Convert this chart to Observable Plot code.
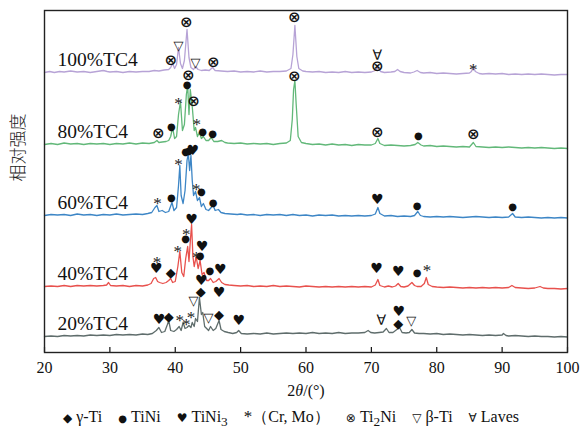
<!DOCTYPE html>
<html><head><meta charset="utf-8">
<script src="https://cdn.jsdelivr.net/npm/d3@7"></script>
<script src="https://cdn.jsdelivr.net/npm/@observablehq/plot@0.6"></script>
<style>
body{margin:0;background:#fff;}
#chart svg{display:block;}
#legend{width:582px;height:32px;padding-top:4px;box-sizing:border-box;font-family:"Liberation Serif","Times New Roman",serif;font-size:16px;color:#111;text-align:center;line-height:26px;white-space:nowrap;}
#legend .s{font-family:"DejaVu Sans",sans-serif;font-size:12px;margin-right:4px;}
#legend .s.dot{font-size:10px;}
#legend .s.ast{font-family:"Liberation Serif",serif;font-size:17px;margin-right:0;}
#legend .it{margin-right:16px;}
#legend .it:last-child{margin-right:0;}
</style></head><body>
<div id="chart"></div>
<div id="legend"></div>
<script>
// 2θ ticks
const xTicks = [20, 30, 40, 50, 60, 70, 80, 90, 100];
const seriesNames = ["20%TC4", "40%TC4", "60%TC4", "80%TC4", "100%TC4"];
const offsets = [16, 66, 137, 208, 280];
const colors = ["#5f6d6c", "#e8514d", "#3d86c6", "#62b879", "#b7a3d6"];

const tc20 = [[20,0],[21,0.5],[22,0],[23,1],[24,0.5],[25,1],[26,0.5],[27,1.5],[28,1],[29,1.5],[30,1],[31,2],[32,1.5],[33,2],[34,1.5],[35,2.5],[35.8,2],[36.5,3],[37.1,6],[37.5,9],[37.9,4],[38.4,5],[38.8,12],[39.0,16],[39.3,6],[39.8,5],[40.2,7],[40.6,10],[40.9,6],[41.2,14],[41.5,8],[41.8,9],[42.1,11],[42.4,9],[42.6,14],[42.9,10],[43.1,18],[43.4,15],[43.7,39],[44.0,22],[44.2,24],[44.5,10],[44.8,8],[45.1,6],[45.4,10],[45.8,6],[46.2,8],[46.7,16],[47.0,7],[47.5,5],[48.1,4],[48.8,3],[49.4,4],[49.7,6],[50.1,3],[51,2.5],[52,3],[53,2.5],[54,3.5],[55,2.5],[56,3],[57,3.5],[58,3],[59,3.5],[60,3],[61,4],[62,3],[63,3.5],[64,3],[65,4],[66,3],[67,3.5],[68,3.5],[69,4],[69.5,6],[69.9,4],[70.5,3.5],[71.2,4],[71.8,4.5],[72.3,8],[72.7,4],[73.3,4],[74.3,9],[74.7,4],[75.3,3.5],[75.8,4],[76.2,7],[76.6,3.5],[77.3,3],[78,3],[79,2.5],[80,3],[81,2],[82,2.5],[83,2],[84,1.5],[85,2],[86,1.5],[87,1],[88,1.5],[89,1],[90,1.5],[90.2,3],[90.6,1],[91,0.5],[92,1],[93,0.5],[94,0],[95,0.5],[96,0],[97,0],[98,-0.5],[99,0],[100,-0.5]];

const tc40 = [[20,0],[21,0.5],[22,0],[23,1],[24,0],[25,1],[26,0.5],[27,1],[28,0.5],[29,1],[29.5,1.5],[29.8,4],[30.1,1],[31,0.5],[32,1],[33,0],[34,1],[35,0.5],[35.8,1.5],[36.3,3],[36.7,8],[37.0,9],[37.3,5],[37.6,4],[38.1,3],[38.6,4],[39.0,6],[39.3,8],[39.6,4],[40.0,5],[40.4,20],[40.7,35],[41.0,14],[41.3,10],[41.6,28],[41.9,40],[42.1,25],[42.3,45],[42.5,62],[42.7,30],[42.9,20],[43.2,30],[43.5,18],[43.8,26],[44.1,12],[44.4,14],[44.8,6],[45.1,6],[45.4,8],[45.8,4],[46.2,5],[46.7,8],[47.1,4],[47.6,2],[48.2,1.5],[49,1],[50,0.5],[51,1],[52,0],[53,0.5],[54,0],[55,1],[56,0],[57,0.5],[58,0],[59,-0.5],[60,0.5],[61,0],[62,-0.5],[63,0],[64,-0.5],[65,0],[66,-0.5],[67,0],[68,-0.5],[69,0],[70,-0.5],[70.6,1.5],[71.0,7],[71.3,1],[72,-0.5],[72.6,0.5],[73.2,-0.5],[73.7,0.5],[74.1,3],[74.5,0],[75,-0.5],[75.6,0.5],[76.2,4],[76.6,1],[77,0],[77.6,0],[78.1,3],[78.4,9],[78.7,2],[79.3,0],[80,-0.5],[81,-1],[82,-0.5],[83,-1],[84,-1.5],[85,-1],[86,-1.5],[87,-1],[88,-1.5],[89,-1],[90,-1.5],[91,-1],[91.5,1],[92,-1],[93,-1.5],[94,-2],[95,-1.5],[95.8,0],[96.3,-1.5],[97,-2],[98,-2],[99,-2.5],[100,-2]];

const tc60 = [[20,0],[21,1],[22,0.5],[23,1],[24,0],[25,1.5],[26,0.5],[27,1],[28,0],[29,1],[30,0.5],[31,1.5],[32,0.5],[33,1],[34,1.5],[35,1],[35.8,2],[36.4,3],[36.9,8],[37.2,10],[37.5,4],[38.0,5],[38.5,3],[39.0,4],[39.5,13],[39.8,5],[40.2,8],[40.5,30],[40.7,50],[40.9,20],[41.2,12],[41.5,25],[41.8,55],[42.0,62],[42.2,45],[42.4,60],[42.6,35],[42.8,20],[43.1,24],[43.4,15],[43.7,18],[44.0,9],[44.3,12],[44.7,6],[45.1,5],[45.5,8],[45.8,10],[46.1,5],[46.6,6],[47.0,3],[47.6,2],[48.5,1.5],[49.5,1],[50,1.5],[51,0.5],[52,1],[53,0],[54,1],[55,0.5],[56,1],[57,0],[58,1],[59,0],[60,0.5],[61,-0.5],[62,0.5],[63,0],[64,0.5],[65,-0.5],[66,0],[67,-0.5],[68,0],[69,-0.5],[70,0],[70.6,1.5],[71,8],[71.3,2],[72,-0.5],[73,0],[74,-1],[75,-0.5],[76,-1],[76.6,0],[77.1,4],[77.5,0],[78,-1],[79,-1.5],[80,-1],[81,-1.5],[82,-1],[83,-1.5],[84,-2],[85,-1.5],[86,-1],[87,-1.5],[88,-2],[89,-1.5],[90,-2],[91,-1.5],[91.6,2],[92,-1.5],[93,-2],[94,-1.5],[95,-2],[96,-2.5],[97,-2],[98,-2.5],[99,-2],[100,-2.5]];

const tc80 = [[20,0],[21,1],[22,0],[23,1.5],[24,0.5],[25,1],[26,0],[27,1],[28,0.5],[29,1],[30,0],[31,1],[32,0.5],[33,1.5],[34,0.5],[35,1.5],[36,1],[36.8,2],[37.2,4],[37.5,2],[38,2.5],[38.6,3],[39.0,4],[39.3,8],[39.6,17],[39.9,6],[40.2,8],[40.5,30],[40.8,43],[41.1,14],[41.4,20],[41.7,50],[41.9,59],[42.1,30],[42.3,55],[42.6,38],[42.9,14],[43.1,17],[43.4,8],[43.7,12],[44.0,6],[44.3,8],[44.7,4],[45.1,4],[45.5,7],[45.9,3],[46.5,3],[47.1,4],[47.6,2],[48,1.5],[49,1],[50,1.5],[51,0.5],[52,1],[53,0.5],[54,1],[55,0],[56,1],[57,1.5],[57.6,4],[57.9,25],[58.1,55],[58.3,64],[58.5,40],[58.8,8],[59.3,2],[60,1],[61,0],[62,0.5],[63,-0.5],[64,0.5],[65,-0.5],[66,0],[67,-1],[68,0],[69,-0.5],[70,-0.5],[70.6,1],[71,6],[71.3,1],[72,-1],[73,-0.5],[74,-1],[75,-1.5],[76,-1],[76.7,0],[77.1,2],[77.6,-0.5],[78,-1.5],[79,-1],[80,-2],[81,-1.5],[82,-2],[83,-2.5],[84,-2],[85,-2.5],[85.6,2],[86,-2],[87,-2.5],[88,-3],[89,-2.5],[90,-3],[91,-2.5],[92,-3],[93,-3.5],[94,-3],[95,-3.5],[96,-3],[97,-3.5],[98,-4],[99,-3.5],[100,-4]];

const tc100 = [[20,0],[20.8,1],[21.5,0],[22.3,1],[23,0.5],[24,1.5],[25,0.5],[26,1],[27,0],[28,1],[29,2],[29.6,1],[30,0.5],[31,1],[32,0],[33,1],[34,0.5],[35,1],[36,1],[36.8,2],[37.5,1.5],[38.3,2.5],[39,3],[39.3,5],[39.6,9],[39.9,4],[40.2,8],[40.5,25],[40.8,9],[41.1,4],[41.4,12],[41.8,43],[42.1,15],[42.4,5],[42.8,3],[43.1,6],[43.5,3],[44,2],[44.6,2.5],[45.2,2],[45.7,5],[46.1,2],[47,1.5],[48,1],[49,1.5],[50,0.5],[51,1],[52,0.5],[53,1.5],[54,0.5],[55,1],[56,1],[57,1.5],[57.7,4],[58.0,18],[58.3,47],[58.6,16],[58.9,4],[59.5,1.5],[60,1],[61,0.5],[62,1],[63,0],[64,0.5],[65,0],[66,1],[67,0],[68,0.5],[69,0],[70,0.5],[70.6,2],[71,5],[71.4,1],[72,0],[73,0.5],[73.6,1],[74,3],[74.4,1],[75,0],[76,-0.5],[76.5,0.5],[77,2],[77.5,0],[78,-0.5],[79,0],[80,-1],[81,-0.5],[82,-1],[83,-1.5],[84,-1],[85,-0.5],[85.3,1],[85.6,6],[85.9,1],[86.5,-1],[87,-1.5],[88,-1],[89,-1.5],[90,-1],[91,-2],[92,-1.5],[93,-2],[94,-1.5],[95,-2],[96,-1.5],[97,-2],[98,-2.5],[99,-2],[100,-2]];

const seriesData = [tc20, tc40, tc60, tc80, tc100];

// phase markers: [2θ, stacked intensity, phase]
const markers = [
  [39.3,292,"Ti2Ni"],[40.5,307,"beta"],[41.7,330,"Ti2Ni"],[43.1,290,"beta"],[45.8,290,"Ti2Ni"],[58.2,335,"Ti2Ni"],[70.9,297,"Laves"],[70.9,286,"Ti2Ni"],[85.6,287,"CrMo"],
  [42.0,277,"Ti2Ni"],[41.8,268,"TiNi"],[40.5,253,"CrMo"],[42.8,251,"Ti2Ni"],[43.3,232,"CrMo"],[39.4,226,"TiNi"],[37.4,219,"Ti2Ni"],[44.2,221,"TiNi"],[45.7,219,"TiNi"],[58.2,276,"Ti2Ni"],[70.9,220,"Ti2Ni"],[77.2,217,"TiNi"],[85.6,218,"Ti2Ni"],
  [41.6,201,"TiNi"],[42.1,202,"TiNi"],[42.7,202,"TiNi3"],[40.5,192,"CrMo"],[43.2,167,"CrMo"],[44.0,161,"TiNi"],[37.3,153,"CrMo"],[39.4,155,"TiNi"],[45.8,150,"TiNi"],[70.9,153,"TiNi3"],[77.0,147,"TiNi"],[91.6,146,"TiNi"],
  [42.5,133,"TiNi3"],[41.7,122,"CrMo"],[41.6,114,"TiNi"],[40.4,105,"CrMo"],[44.1,106,"TiNi3"],[43.2,99,"CrMo"],[43.8,97,"TiNi"],[37.2,94,"CrMo"],[37.1,84,"TiNi3"],[39.3,80,"gamma"],[45.3,82,"TiNi"],[46.9,83,"TiNi3"],[70.8,84,"TiNi3"],[74.1,81,"TiNi3"],[77.0,80,"TiNi"],[78.5,86,"CrMo"],
  [44.0,72,"TiNi3"],[43.9,61,"gamma"],[42.8,52,"beta"],[46.7,60,"TiNi3"],[46.7,38,"gamma"],[45.1,35,"beta"],[37.5,33,"TiNi3"],[39.0,36,"gamma"],[40.7,36,"CrMo"],[41.7,32,"CrMo"],[42.4,39,"CrMo"],[49.7,32,"TiNi3"],[71.5,32,"Laves"],[74.2,41,"TiNi3"],[74.1,29,"gamma"],[76.1,32,"beta"]
];
const phaseSymbols = {gamma: "◆", TiNi: "●", TiNi3: "♥", CrMo: "*", Ti2Ni: "⊗", beta: "▽", Laves: "∀"};
const legendItems = [["gamma","γ-Ti"],["TiNi","TiNi"],["TiNi3","TiNi<sub>3</sub>"],["CrMo","（Cr, Mo）"],["Ti2Ni","Ti<sub>2</sub>Ni"],["beta","β-Ti"],["Laves","Laves"]];

const serif = "Liberation Serif, Times New Roman, serif";
const symSize = {gamma: 13, TiNi: 10, TiNi3: 14, Ti2Ni: 15, beta: 13, Laves: 14};
const rows = seriesData.map((s, i) => s.map(([x, v]) => ({x, y: v + offsets[i]})));
const mk = markers.map(([x, y, p]) => ({x, y, p, s: phaseSymbols[p]}));
const labels = seriesNames.map((n, i) => ({n, y: offsets[i] + 13}));

const plot = Plot.plot({
  width: 582, height: 400,
  marginLeft: 44, marginRight: 15, marginTop: 10, marginBottom: 48,
  style: {fontFamily: serif, background: "#fff", color: "#111"},
  x: {domain: [20, 100]},
  y: {domain: [0, 342], axis: null},
  marks: [
    ...rows.map((r, i) => Plot.line(r, {x: "x", y: "y", stroke: colors[i], strokeWidth: 1.3})),
    ...Object.keys(symSize).map(p => Plot.text(mk.filter(d => d.p === p), {x: "x", y: "y", text: "s", fontFamily: "DejaVu Sans", fontSize: symSize[p], fontWeight: p === "Ti2Ni" ? "bold" : "normal", fill: "#111"})),
    Plot.text(mk.filter(d => d.p === "CrMo"), {x: "x", y: "y", text: "s", fontFamily: serif, fontSize: 17, dy: 4, fill: "#222"}),
    Plot.text(labels, {x: () => 22, y: "y", text: "n", textAnchor: "start", fontSize: 19.5, fontFamily: serif, fill: "#111"}),
    Plot.ruleX(xTicks, {x: d => d, y1: 0, y2: 5, stroke: "#111", strokeWidth: 1.2}),
    Plot.axisX({ticks: xTicks, tickSize: 0, tickPadding: 9, fontSize: 16, label: null, tickFormat: d => d}),
    Plot.text([0], {frameAnchor: "bottom", dy: 43, text: () => "2θ/(°)", fontSize: 16, fontFamily: serif, fill: "#111"}),
    Plot.text([0], {frameAnchor: "left", dx: -26, rotate: -90, text: () => "相对强度", fontSize: 17, fontFamily: "Noto Sans CJK SC", fontWeight: 300, fill: "#222"}),
    Plot.frame({stroke: "#222", strokeWidth: 1.4})
  ]
});
document.getElementById("chart").appendChild(plot);
// italicize θ in the axis label
plot.querySelectorAll("text").forEach(t => {
  if (t.textContent === "2θ/(°)") {
    t.innerHTML = '2<tspan font-style="italic">θ</tspan>/(°)';
  }
});
document.getElementById("legend").innerHTML = legendItems.map(([p, l]) =>
  `<span class="it"><span class="s${p === "TiNi" ? " dot" : p === "CrMo" ? " ast" : ""}">${phaseSymbols[p]}</span>${l}</span>`).join("");
</script>
</body></html>
